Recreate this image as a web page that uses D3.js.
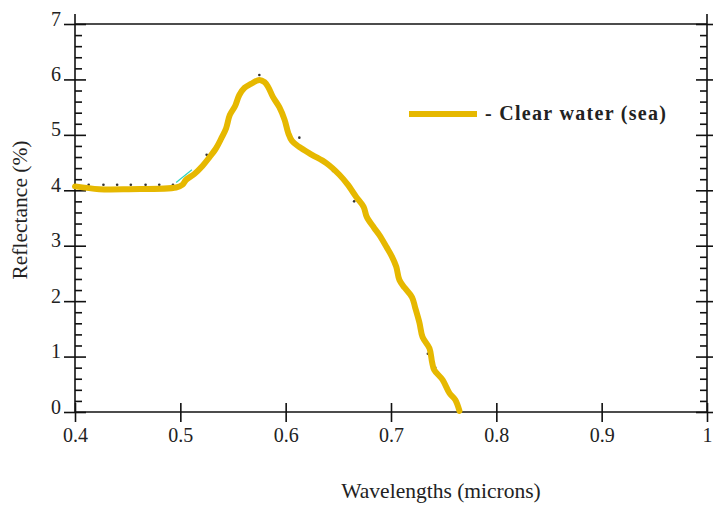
<!DOCTYPE html>
<html>
<head>
<meta charset="utf-8">
<script src="https://cdn.jsdelivr.net/npm/d3@7"></script>
<style>
  body { margin: 0; background: #fff; }
  text { font-family: "Liberation Serif", "Times New Roman", serif; fill: #222; }
</style>
</head>
<body>
<script>
// clear water (sea) reflectance curve
var wave = [0.400, 0.423, 0.451, 0.496, 0.502, 0.5055, 0.513, 0.521, 0.527, 0.534, 0.539, 0.5435,
  0.547, 0.552, 0.556, 0.561, 0.567, 0.575, 0.580, 0.5835, 0.588, 0.594, 0.599, 0.6025, 0.606,
  0.613, 0.625, 0.6386, 0.651, 0.6586, 0.667, 0.674, 0.677, 0.684, 0.689, 0.6956, 0.701, 0.705,
  0.708, 0.713, 0.720, 0.723, 0.727, 0.730, 0.7365, 0.739, 0.741, 0.749, 0.7555, 0.761, 0.765];
var refl = [4.07, 4.02, 4.02, 4.05, 4.10, 4.19, 4.29, 4.44, 4.58, 4.76, 4.94, 5.12,
  5.36, 5.52, 5.72, 5.85, 5.92, 5.99, 5.95, 5.86, 5.68, 5.50, 5.27, 5.03, 4.89,
  4.78, 4.64, 4.49, 4.28, 4.11, 3.88, 3.70, 3.52, 3.32, 3.19, 2.98, 2.80, 2.62,
  2.38, 2.24, 2.07, 1.88, 1.61, 1.35, 1.15, 0.90, 0.76, 0.58, 0.34, 0.22, 0.02];

// the faint dotted original under the thick line
var dotWave = [0.400, 0.413, 0.427, 0.440, 0.453, 0.467, 0.480, 0.493, 0.525, 0.575, 0.613, 0.645, 0.665, 0.677, 0.735, 0.742];
var dotRefl = [4.10, 4.10, 4.10, 4.10, 4.10, 4.10, 4.10, 4.10, 4.64, 6.08, 4.95, 4.35, 3.80, 3.55, 1.05, 0.80];

// thin cyan piece near 0.5
var cyanWave = [0.496, 0.511];
var cyanRefl = [4.14, 4.37];

var xTicks = [0.4, 0.5, 0.6, 0.7, 0.8, 0.9, 1];
var yTicks = [0, 1, 2, 3, 4, 5, 6, 7];
var yMinor = d3.range(0, 7.01, 0.2).filter(function(v) { return Math.abs(v - Math.round(v)) > 0.01; });

var legendLabel = "- Clear water (sea)";
var lineColor = "#e6b800";

var W = 713, H = 506;
var padL = 75, padR = 707, padT = 24, padB = 412;

var x = d3.scaleLinear().domain([0.4, 1]).range([padL, padR]);
var y = d3.scaleLinear().domain([0, 7]).range([padB, padT]);

var svg = d3.select("body").append("svg")
  .attr("width", W).attr("height", H);

svg.append("rect").attr("width", W).attr("height", H).attr("fill", "#fff");

function axisG(ax, tx, ty) {
  var g = svg.append("g").attr("transform", "translate(" + tx + "," + ty + ")").call(ax);
  g.select(".domain").remove();
  g.selectAll("line").attr("stroke", "#111").attr("stroke-width", 1.6);
  return g;
}

// left axis
var gl = axisG(d3.axisLeft(y).tickValues(yTicks).tickSize(11).tickPadding(3).tickFormat(d3.format("d")), padL, 0);
gl.selectAll("text").attr("dy", "0.05em").style("font-size", "20px")
  .style("font-family", "Liberation Serif").attr("fill", "#333");
axisG(d3.axisRight(y).tickValues(yTicks).tickSize(11).tickFormat(""), padL, 0);
axisG(d3.axisRight(y).tickValues(yMinor).tickSize(7).tickFormat(""), padL, 0);

// right axis
axisG(d3.axisRight(y).tickValues(yTicks).tickSize(11).tickFormat(""), padR, 0);
axisG(d3.axisLeft(y).tickValues(yTicks).tickSize(11).tickFormat(""), padR, 0);
axisG(d3.axisLeft(y).tickValues(yMinor).tickSize(7).tickFormat(""), padR, 0);

// bottom axis
var gb = axisG(d3.axisBottom(x).tickValues(xTicks).tickSize(10).tickPadding(6).tickFormat(d3.format("")), 0, padB);
gb.selectAll("text").style("font-size", "20px").style("font-family", "Liberation Serif").attr("fill", "#333");
axisG(d3.axisTop(x).tickValues(xTicks).tickSize(9).tickFormat(""), 0, padB);

// frame
var frame = svg.append("g").attr("stroke", "#111").attr("stroke-width", 1.6).attr("fill", "none");
frame.append("line").attr("x1", padL).attr("x2", padR).attr("y1", padT).attr("y2", padT);
frame.append("line").attr("x1", padL).attr("x2", padR).attr("y1", padB).attr("y2", padB);
frame.append("line").attr("x1", padL).attr("x2", padL).attr("y1", padT - 10).attr("y2", padB);
frame.append("line").attr("x1", padR).attr("x2", padR).attr("y1", padT - 10).attr("y2", padB);

// axis titles
svg.append("text").attr("x", 441).attr("y", 498).attr("text-anchor", "middle")
  .style("font-size", "21.5px").attr("fill", "#333").text("Wavelengths (microns)");
svg.append("text").attr("transform", "translate(27,210) rotate(-90)").attr("text-anchor", "middle")
  .style("font-size", "21.5px").attr("fill", "#333").text("Reflectance (%)");

// dotted original
svg.append("g").selectAll("circle").data(dotWave).join("circle")
  .attr("cx", function(d) { return x(d); })
  .attr("cy", function(d, i) { return y(dotRefl[i]); })
  .attr("r", 1.3).attr("fill", "#333");

var line = d3.line().x(function(d) { return x(d[0]); }).y(function(d) { return y(d[1]); });

svg.append("path").datum(d3.zip(cyanWave, cyanRefl)).attr("d", line)
  .attr("fill", "none").attr("stroke", "#2fd3c0").attr("stroke-width", 1.2);

svg.append("path").datum(d3.zip(wave, refl))
  .attr("d", line.curve(d3.curveCatmullRom))
  .attr("fill", "none").attr("stroke", lineColor).attr("stroke-width", 6)
  .attr("stroke-linejoin", "round").attr("stroke-linecap", "round");

// legend
svg.append("line").attr("x1", 409).attr("x2", 477).attr("y1", 114).attr("y2", 114)
  .attr("stroke", lineColor).attr("stroke-width", 6);
svg.append("text").attr("x", 485).attr("y", 120)
  .style("font-size", "20px").style("font-weight", "bold").style("letter-spacing", "1.3px")
  .attr("fill", "#222").text(legendLabel);
</script>
</body>
</html>
